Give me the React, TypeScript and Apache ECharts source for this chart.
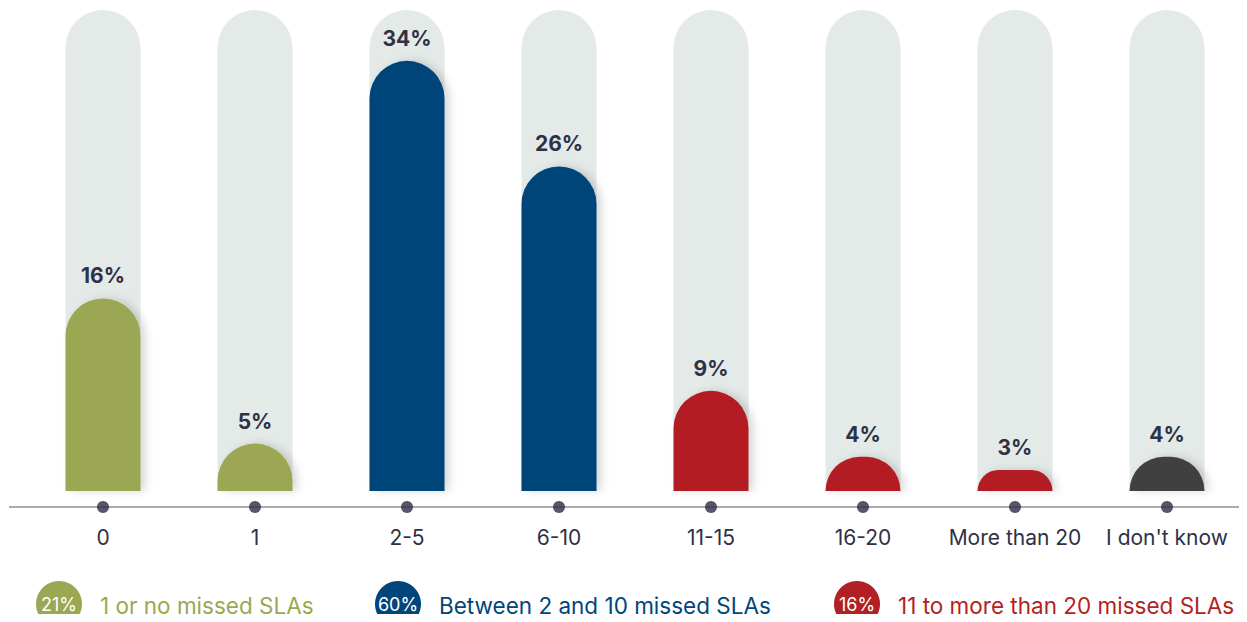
import React, { useEffect, useRef } from "react";
import * as echarts from "echarts";

const categories = ["0", "1", "2-5", "6-10", "11-15", "16-20", "More than 20", "I don't know"];
const values = [16, 5, 34, 26, 9, 4, 3, 4];
const groupOf = [0, 0, 1, 1, 2, 2, 2, 3];
const groupColors = ["#9ba752", "#02457a", "#b21f24", "#404040"];
const legendPercents = ["21%", "60%", "16%"];
const legendLabels = ["1 or no missed SLAs", "Between 2 and 10 missed SLAs", "11 to more than 20 missed SLAs"];

const FONT = "Inter, 'Noto Sans', sans-serif";
const DARK = "#2e3147";

export default function App() {
  const ref = useRef<HTMLDivElement>(null);
  useEffect(() => {
    const chart = echarts.init(ref.current!, null, { renderer: "svg" });
    const legendX = [59, 398, 857];
    const graphic: any[] = [
      { type: "line", shape: { x1: 9, y1: 507, x2: 1247, y2: 507 }, style: { stroke: "#55555f", lineWidth: 1 }, z: 1 },
    ];
    legendPercents.forEach((p, i) => {
      graphic.push({
        type: "circle",
        shape: { cx: legendX[i], cy: 604, r: 23 },
        style: { fill: groupColors[i] },
      });
      graphic.push({
        type: "text",
        x: legendX[i],
        y: 604,
        style: { text: p, fill: "#fff", font: `18px ${FONT}`, align: "center", verticalAlign: "middle" },
      });
      graphic.push({
        type: "text",
        x: legendX[i] + 41,
        y: 605,
        style: { text: legendLabels[i], fill: groupColors[i], font: `22.5px ${FONT}`, align: "left", verticalAlign: "middle" },
      });
    });

    chart.setOption({
      animation: false,
      grid: [
        { left: 27, width: 1216, top: 10, height: 481 },
        { left: 27, width: 1216, top: 500, height: 14 },
      ],
      xAxis: [
        { type: "category", data: categories, gridIndex: 0, axisLine: { show: false }, axisTick: { show: false }, axisLabel: { show: false } },
        {
          type: "category",
          data: categories,
          gridIndex: 1,
          axisLine: { show: false },
          axisTick: { show: false },
          axisLabel: { color: DARK, fontSize: 21, fontFamily: FONT, margin: 13, interval: 0, hideOverlap: false },
        },
      ],
      yAxis: [
        { type: "value", gridIndex: 0, min: 1.41, max: 37.85, show: false },
        { type: "value", gridIndex: 1, min: -1, max: 1, show: false },
      ],
      series: [
        {
          type: "bar",
          xAxisIndex: 0,
          yAxisIndex: 0,
          barWidth: 75,
          clip: true,
          showBackground: true,
          backgroundStyle: { color: "#e4eae8", borderRadius: [37.5, 37.5, 0, 0] },
          data: values.map((v, i) => ({
            value: v,
            itemStyle: {
              color: groupColors[groupOf[i]],
              borderRadius: [37.5, 37.5, 0, 0],
              shadowColor: "rgba(0,0,0,0.15)",
              shadowBlur: 8,
              shadowOffsetX: 5,
            },
          })),
          label: {
            show: true,
            position: "top",
            distance: 12,
            formatter: "{c}%",
            color: DARK,
            fontSize: 21,
            fontWeight: "bold",
            fontFamily: FONT,
          },
        },
        {
          type: "scatter",
          xAxisIndex: 1,
          yAxisIndex: 1,
          symbolSize: 12,
          itemStyle: { color: "#2c2c46" },
          z: 5,
          data: categories.map(() => 0),
        },
      ],
      graphic,
    });
    return () => chart.dispose();
  }, []);
  return <div ref={ref} style={{ width: 1247, height: 622, margin: -8 }} />;
}
